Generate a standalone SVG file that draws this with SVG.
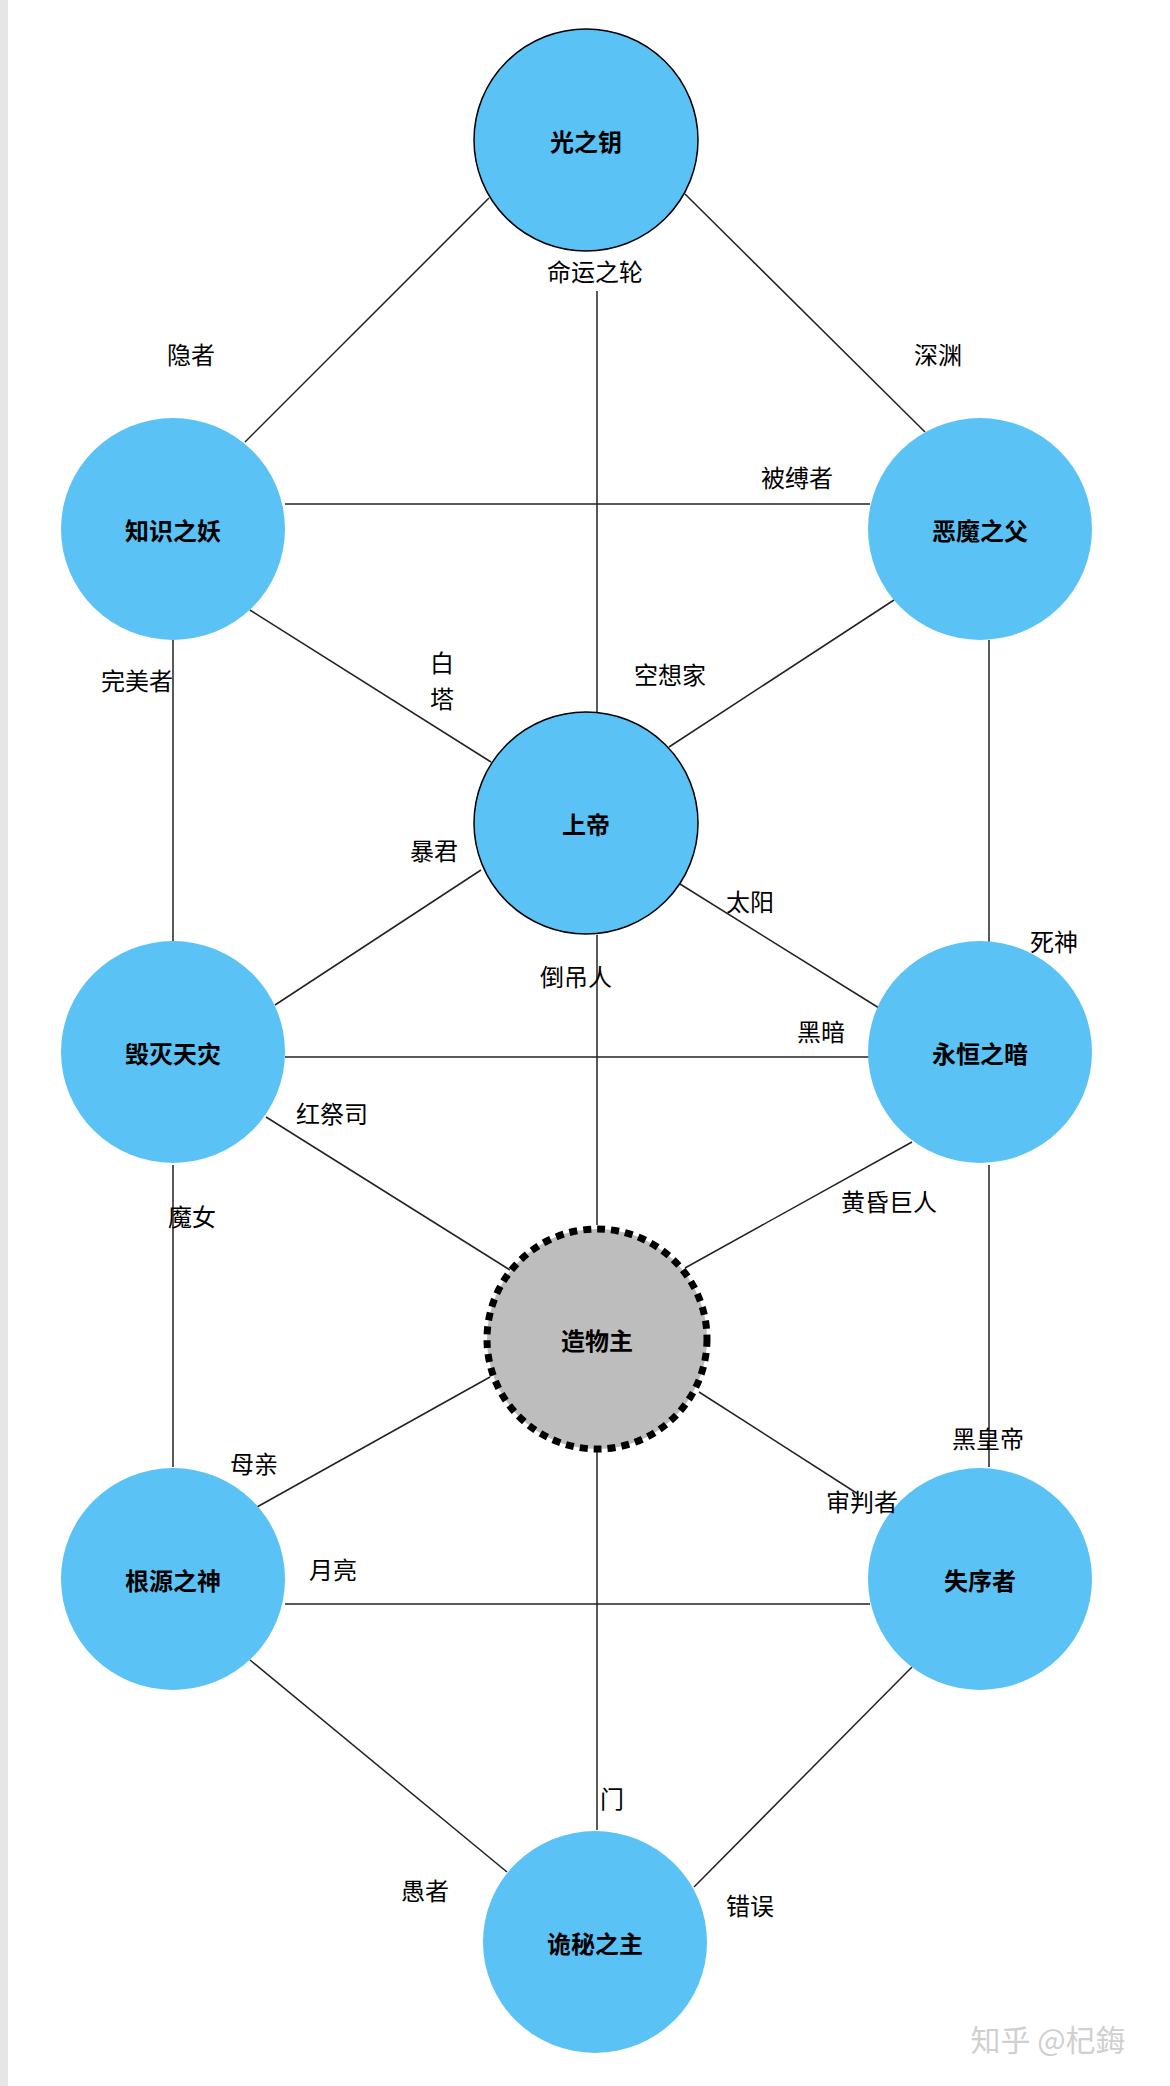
<svg xmlns="http://www.w3.org/2000/svg" width="1170" height="2086" viewBox="0 0 1170 2086">
<style>
.n{fill:#5BC2F5;stroke:none}
.t{font-family:"Noto Sans CJK SC",sans-serif;font-size:24px;font-weight:bold;text-anchor:middle;dominant-baseline:central;fill:#000}
.l{font-family:"Noto Sans CJK SC",sans-serif;font-size:24px;text-anchor:middle;dominant-baseline:central;fill:#000}
#edges line{stroke:#222;stroke-width:1.5}
</style>
<rect width="1170" height="2086" fill="#fff"/>
<rect width="8" height="2086" fill="#e6e6e6"/>
<g id="edges">
<line x1="489" y1="198" x2="245" y2="442"/>
<line x1="685" y1="194" x2="925" y2="432"/>
<line x1="597" y1="291" x2="597" y2="712"/>
<line x1="285" y1="504" x2="870" y2="504"/>
<line x1="250" y1="610" x2="491" y2="762"/>
<line x1="894" y1="600" x2="669" y2="747"/>
<line x1="173" y1="640" x2="173" y2="943"/>
<line x1="989" y1="640" x2="989" y2="943"/>
<line x1="481" y1="870" x2="275" y2="1005"/>
<line x1="680" y1="884" x2="879" y2="1008"/>
<line x1="597" y1="935" x2="597" y2="1225"/>
<line x1="285" y1="1057" x2="870" y2="1057"/>
<line x1="266" y1="1117" x2="510" y2="1270"/>
<line x1="912" y1="1142" x2="685" y2="1268"/>
<line x1="173" y1="1165" x2="173" y2="1467"/>
<line x1="989" y1="1165" x2="989" y2="1467"/>
<line x1="490" y1="1377" x2="257" y2="1507"/>
<line x1="699" y1="1392" x2="858" y2="1494"/>
<line x1="285" y1="1604" x2="870" y2="1604"/>
<line x1="597" y1="1450" x2="597" y2="1830"/>
<line x1="250" y1="1660" x2="507" y2="1872"/>
<line x1="912" y1="1667" x2="694" y2="1887"/>
</g>
<g id="guangzhiyao"><ellipse class="n" cx="586" cy="140" rx="112" ry="111" style="stroke:#000;stroke-width:1.5"/><text class="t" x="586" y="140">光之钥</text></g>
<g id="zhishi"><ellipse class="n" cx="173" cy="529" rx="112" ry="111"/><text class="t" x="173" y="529">知识之妖</text></g>
<g id="emo"><ellipse class="n" cx="980" cy="529" rx="112" ry="111"/><text class="t" x="980" y="529">恶魔之父</text></g>
<g id="shangdi"><ellipse class="n" cx="586" cy="823" rx="112" ry="111" style="stroke:#000;stroke-width:1.5"/><text class="t" x="586" y="823">上帝</text></g>
<g id="huimie"><ellipse class="n" cx="173" cy="1052" rx="112" ry="111"/><text class="t" x="173" y="1052">毁灭天灾</text></g>
<g id="yongheng"><ellipse class="n" cx="980" cy="1052" rx="112" ry="111"/><text class="t" x="980" y="1052">永恒之暗</text></g>
<g id="zaowu"><ellipse cx="597" cy="1339" rx="110" ry="110" fill="#BDBDBD" stroke="#000" stroke-width="7" stroke-dasharray="8,6"/><text class="t" x="597" y="1339">造物主</text></g>
<g id="genyuan"><ellipse class="n" cx="173" cy="1579" rx="112" ry="111"/><text class="t" x="173" y="1579">根源之神</text></g>
<g id="shixu"><ellipse class="n" cx="980" cy="1579" rx="112" ry="111"/><text class="t" x="980" y="1579">失序者</text></g>
<g id="guimi"><ellipse class="n" cx="595" cy="1942" rx="112" ry="111"/><text class="t" x="595" y="1942">诡秘之主</text></g>
<g id="labels">
<text class="l" x="595" y="270">命运之轮</text>
<text class="l" x="191" y="353">隐者</text>
<text class="l" x="938" y="353">深渊</text>
<text class="l" x="797" y="476">被缚者</text>
<text class="l" x="137" y="679">完美者</text>
<text class="l" x="442" y="661">白</text>
<text class="l" x="442" y="697">塔</text>
<text class="l" x="670" y="673">空想家</text>
<text class="l" x="434" y="849">暴君</text>
<text class="l" x="750" y="900">太阳</text>
<text class="l" x="1054" y="940">死神</text>
<text class="l" x="576" y="975">倒吊人</text>
<text class="l" x="821" y="1030">黑暗</text>
<text class="l" x="332" y="1112">红祭司</text>
<text class="l" x="889" y="1200">黄昏巨人</text>
<text class="l" x="192" y="1215">魔女</text>
<text class="l" x="254" y="1462">母亲</text>
<text class="l" x="988" y="1437">黑皇帝</text>
<text class="l" x="862" y="1500">审判者</text>
<text class="l" x="333" y="1568">月亮</text>
<text class="l" x="612" y="1797">门</text>
<text class="l" x="425" y="1889">愚者</text>
<text class="l" x="750" y="1904">错误</text>
<text x="1048" y="2038" style="font-family:'Noto Sans CJK SC',sans-serif;font-size:30px;text-anchor:middle;dominant-baseline:central;fill:#d0d0d0">知乎 @杞鋂</text>
</g>
</svg>
